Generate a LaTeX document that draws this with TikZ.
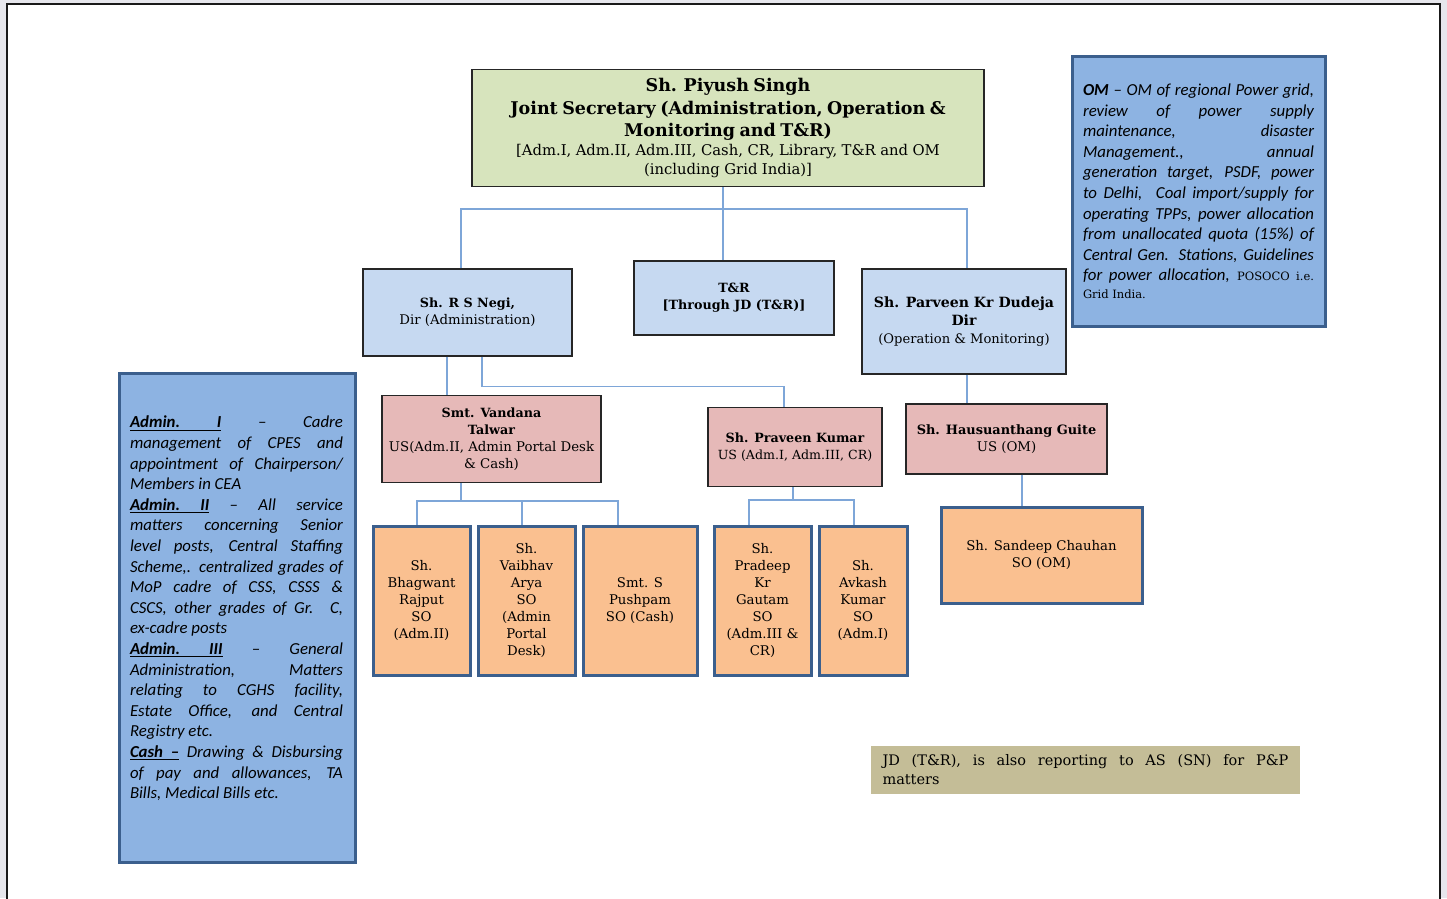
\documentclass[tikz,border=0pt]{standalone}
\usepackage{fontspec}
\setmainfont{DejaVu Serif}
\newfontfamily\carl{Carlito}
\definecolor{jsfill}{HTML}{D7E4BD}
\definecolor{lbfill}{HTML}{C6D9F1}
\definecolor{pkfill}{HTML}{E6B9B8}
\definecolor{orfill}{HTML}{FAC090}
\definecolor{infill}{HTML}{8DB3E2}
\definecolor{bdark}{HTML}{3B5F8D}
\definecolor{connc}{HTML}{7EA6D8}
\definecolor{notefill}{HTML}{C4BD97}
\definecolor{pagebg}{HTML}{E6E6EC}
\newcommand\jl[1]{\makebox[\linewidth][s]{#1}}
\newcommand\ulw[1]{\setbox0=\hbox{#1}\rlap{\rule[-2.4pt]{\wd0}{0.8pt}}\box0\relax}
\newcommand\ulsp{\leaders\hrule height -1.6pt depth 2.4pt\hskip\fontdimen2\font plus\fontdimen3\font minus\fontdimen4\font\relax}
\newcommand\bname[1]{{\bfseries\fontsize{12.7}{17}\selectfont #1}}
\tikzset{
  conn/.style={draw=connc, line width=1.6pt},
  sz/.style 2 args={minimum width=#1, minimum height=#2},
  boxbase/.style={rectangle, inner xsep=3pt, inner ysep=0pt, align=center,
    font=\fontsize{13.3}{17}\selectfont},
  jsbox/.style={boxbase, fill=jsfill, draw=black!85, line width=1.3pt},
  lbox/.style={boxbase, fill=lbfill, draw=black!85, line width=1.3pt},
  pbox/.style={boxbase, fill=pkfill, draw=black!85, line width=1.3pt},
  obox/.style={boxbase, fill=orfill, draw=bdark, line width=3pt},
  ibox/.style={rectangle, inner sep=0pt, fill=infill, draw=bdark, line width=3pt},
  itxt/.style={inner sep=0pt, align=justify, font=\carl\itshape\fontsize{16.8}{20.6}\selectfont},
  notebox/.style={rectangle, inner sep=0pt, fill=notefill, align=justify,
    font=\fontsize{14.5}{19}\selectfont},
}
\begin{document}
\begin{tikzpicture}[x=1pt, y=-1pt]
\useasboundingbox (0,0) rectangle (1447,898);
\fill[pagebg] (0,0) rectangle (1447,898);
\filldraw[fill=white, draw=black!90, line width=1.4pt] (7,4) rectangle (1440,905);

% top
\node[jsbox, sz={512}{117}, text width=505, inner xsep=2pt] (js) at (728,128)
 {{\bfseries\fontsize{17.5}{22.5}\selectfont Sh. Piyush Singh\\Joint Secretary (Administration, Operation \&\\Monitoring and T\&R)\par}
  {\fontsize{14.8}{19}\selectfont [Adm.I, Adm.II, Adm.III, Cash, CR, Library, T\&R and OM\\(including Grid India)]\par}};

% directors
\node[lbox, sz={209}{87}] (negi) at (467.5,312.5) {\bname{Sh. R S Negi,}\\Dir (Administration)};
\node[lbox, sz={200}{74}] (tr) at (734,298) {\bname{T\&R}\\\bname{[Through JD (T\&R)]}};
\node[lbox, sz={204}{105}, font=\fontsize{13.1}{18}\selectfont] (dud) at (964,321.5)
 {{\bfseries\fontsize{14.1}{18}\selectfont Sh. Parveen Kr Dudeja}\\{\bfseries\fontsize{14.1}{18}\selectfont Dir}\\(Operation \& Monitoring)};

% under secretaries
\node[pbox, sz={219}{87}] (van) at (491.5,439)
 {\bname{Smt. Vandana}\\\bname{Talwar}\\US(Adm.II, Admin Portal Desk\\\& Cash)};
\node[pbox, sz={174}{79}, font=\fontsize{12.6}{17}\selectfont] (pra) at (795,447) {\bname{Sh. Praveen Kumar}\\US (Adm.I, Adm.III, CR)};
\node[pbox, sz={201}{70}] (hau) at (1006.5,439) {{\bfseries\fontsize{12.9}{17}\selectfont Sh. Hausuanthang Guite}\\US (OM)};

% section officers
\node[obox, sz={97}{149}] (bha) at (421.5,600.5) {Sh.\\Bhagwant\\Rajput\\SO\\(Adm.II)};
\node[obox, sz={97}{149}] (vai) at (526.5,600.5) {Sh.\\Vaibhav\\Arya\\SO\\(Admin\\Portal\\Desk)};
\node[obox, sz={114}{149}] (pus) at (640,600.5) {Smt. S\\Pushpam\\SO (Cash)};
\node[obox, sz={97}{149}] (prd) at (762.5,600.5) {Sh.\\Pradeep\\Kr\\Gautam\\SO\\(Adm.III \&\\CR)};
\node[obox, sz={88}{149}] (avk) at (863,600.5) {Sh.\\Avkash\\Kumar\\SO\\(Adm.I)};
\node[obox, sz={201}{96}] (san) at (1041.5,555) {Sh. Sandeep Chauhan\\SO (OM)};

% OM info box
\node[ibox, sz={253}{270}, text width=231, itxt, inner sep=0pt] (om) at (1198.5,191)
 {\jl{\textbf{OM} – OM of regional Power grid,}\\
  \jl{review of power supply}\\
  \jl{maintenance, disaster}\\
  \jl{Management., annual}\\
  \jl{generation target, PSDF, power}\\
  \jl{to Delhi, \ Coal import/supply for}\\
  \jl{operating TPPs, power allocation}\\
  \jl{from unallocated quota (15\%) of}\\
  \jl{Central Gen. Stations, Guidelines}\\
  \jl{for power allocation, {\rmfamily\upshape\fontsize{11.5}{17}\selectfont POSOCO i.e.}}\\[-3.5pt]
  {\rmfamily\upshape\fontsize{11.5}{17}\selectfont Grid India.}};

% Admin info box
\node[ibox, sz={236}{489}] (adm) at (237,617.5) {};
\node[itxt, text width=213] (admtxt) at (236.5,608.5)
 {\jl{\ulw{\textbf{Admin.}}\ulsp\ulw{\textbf{I}} – Cadre}\\
  \jl{management of CPES and}\\
  \jl{appointment of Chairperson/}\\
  Members in CEA\\
  \jl{\ulw{\textbf{Admin.}}\ulsp\ulw{\textbf{II}} – All service}\\
  \jl{matters concerning Senior}\\
  \jl{level posts, Central Staffing}\\
  \jl{Scheme,. centralized grades of}\\
  \jl{MoP cadre of CSS, CSSS \&}\\
  \jl{CSCS, other grades of Gr. C,}\\
  ex-cadre posts\\
  \jl{\ulw{\textbf{Admin.}}\ulsp\ulw{\textbf{III}} – General}\\
  \jl{Administration, Matters}\\
  \jl{relating to CGHS facility,}\\
  \jl{Estate Office, and Central}\\
  Registry etc.\\
  \jl{\ulw{\textbf{Cash}}\ulsp\ulw{\textbf{–}} Drawing \& Disbursing}\\
  \jl{of pay and allowances, TA}\\
  Bills, Medical Bills etc.};

% note
\node[notebox, sz={429}{48}, text width=406] (note) at (1085.5,769.5)
 {\jl{JD (T\&R), is also reporting to AS (SN) for P\&P}\\matters};

% connectors
\draw[conn] ([xshift=-5]js.south) -- ++(0,22) coordinate (b1);
\draw[conn] ([xshift=-6.5]negi.north) |- (b1) -| ([xshift=3]dud.north);
\draw[conn] (b1) -- ([xshift=-11]tr.north);
\draw[conn] ([xshift=-20.5]negi.south) -- ([xshift=-44.5]van.north);
\draw[conn] ([xshift=14.5]negi.south) -- ++(0,30) -| ([xshift=-11]pra.north);
\draw[conn] ([xshift=3]dud.south) -- ([xshift=-39.5]hau.north);
\draw[conn] ([xshift=15.5]hau.south) -- ([xshift=-19.5]san.north);
\draw[conn] ([xshift=-30.5]van.south) -- ++(0,18) coordinate (b2);
\draw[conn] ([xshift=-4.5]bha.north) |- (b2) -| ([xshift=-22]pus.north);
\draw[conn] ([xshift=-4.5]vai.north) -- ([xshift=-4.5]vai.north |- b2);
\draw[conn] ([xshift=-2]pra.south) -- ++(0,13) coordinate (b3);
\draw[conn] ([xshift=-13.5]prd.north) |- (b3) -| ([xshift=-9]avk.north);
\end{tikzpicture}
\end{document}
